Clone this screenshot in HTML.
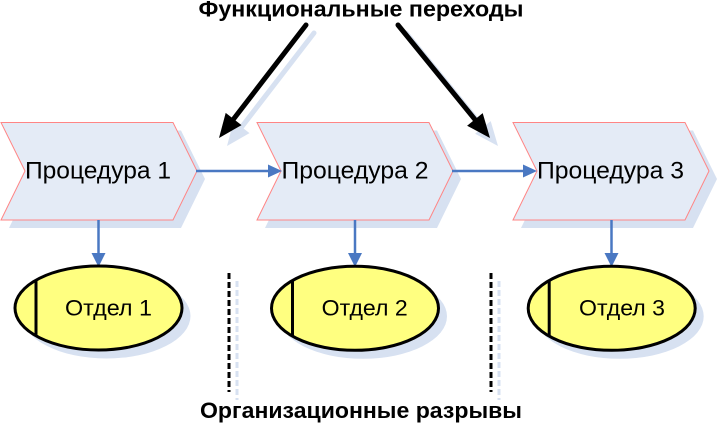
<!DOCTYPE html>
<html>
<head>
<meta charset="utf-8">
<style>
  html, body { margin: 0; padding: 0; background: #ffffff; }
  body { width: 718px; height: 423px; overflow: hidden; }
  svg { display: block; }
  text { font-family: "Liberation Sans", Arial, sans-serif; fill: #000; }
</style>
</head>
<body>
<svg width="718" height="423" viewBox="0 0 718 423" xmlns="http://www.w3.org/2000/svg">
  <defs>
    <path id="chev" d="M0,122.5 L172,122.5 L196,171 L172,220 L0,220 L24,171 Z"/>
  </defs>

  <!-- Big arrow shadows -->
  <g stroke="#d7e1f1" fill="#d7e1f1">
    <line x1="314" y1="33" x2="241.6" y2="127" stroke-width="5" stroke-linecap="round"/>
    <polygon points="227,146 249.5,133.1 233.7,120.9" stroke="none"/>
    <line x1="406" y1="33" x2="482.9" y2="127.4" stroke-width="5" stroke-linecap="round"/>
    <polygon points="498,146 490.7,121.1 475.1,133.7" stroke="none"/>
  </g>

  <!-- Chevron shadows -->
  <use href="#chev" x="9" y="8" fill="#d7e1f1"/>
  <use href="#chev" x="265" y="8" fill="#d7e1f1"/>
  <use href="#chev" x="521" y="8" fill="#d7e1f1"/>

  <!-- Chevrons -->
  <use href="#chev" x="1" y="0" fill="#e4ebf6" stroke="#ff8585" stroke-width="1"/>
  <use href="#chev" x="257" y="0" fill="#e4ebf6" stroke="#ff8585" stroke-width="1"/>
  <use href="#chev" x="513" y="0" fill="#e4ebf6" stroke="#ff8585" stroke-width="1"/>

  <!-- Procedure labels -->
  <text x="98" y="178.5" font-size="24" text-anchor="middle" textLength="146" lengthAdjust="spacingAndGlyphs">Процедура 1</text>
  <text x="355" y="178.5" font-size="24" text-anchor="middle" textLength="147" lengthAdjust="spacingAndGlyphs">Процедура 2</text>
  <text x="610.5" y="178.5" font-size="24" text-anchor="middle" textLength="147" lengthAdjust="spacingAndGlyphs">Процедура 3</text>

  <!-- Horizontal blue connectors -->
  <g stroke="#4a78c2" stroke-width="2.5" fill="#4a78c2">
    <line x1="196" y1="171" x2="270" y2="171"/>
    <polygon points="282,171 268,164.5 268,177.5" stroke="none"/>
    <line x1="452" y1="171" x2="525" y2="171"/>
    <polygon points="537,171 523,164.5 523,177.5" stroke="none"/>
  </g>

  <!-- Vertical blue connectors -->
  <g stroke="#4a78c2" stroke-width="2.5" fill="#4a78c2">
    <line x1="98.5" y1="220" x2="98.5" y2="254"/>
    <polygon points="98.5,267 91.5,253 105.5,253" stroke="none"/>
    <line x1="355" y1="220" x2="355" y2="254"/>
    <polygon points="355,267 348,253 362,253" stroke="none"/>
    <line x1="611.5" y1="220" x2="611.5" y2="254"/>
    <polygon points="611.5,267 604.5,253 618.5,253" stroke="none"/>
  </g>

  <!-- Ellipse shadows -->
  <ellipse cx="106.5" cy="316" rx="84" ry="42.5" fill="#d7e1f1"/>
  <ellipse cx="363" cy="316.3" rx="84" ry="42.5" fill="#d7e1f1"/>
  <ellipse cx="619.7" cy="316.3" rx="84" ry="42.5" fill="#d7e1f1"/>

  <!-- Ellipses -->
  <g fill="#ffff80" stroke="#000" stroke-width="3">
    <ellipse cx="98.5" cy="308" rx="83.5" ry="42"/>
    <ellipse cx="355" cy="308.3" rx="83.5" ry="42"/>
    <ellipse cx="611.7" cy="308.3" rx="83.5" ry="42"/>
  </g>
  <g stroke="#000" stroke-width="3">
    <line x1="36" y1="280.5" x2="36" y2="335.5"/>
    <line x1="292.5" y1="280.8" x2="292.5" y2="335.8"/>
    <line x1="549.2" y1="280.8" x2="549.2" y2="335.8"/>
  </g>

  <!-- Department labels -->
  <text x="108.5" y="315.7" font-size="22" text-anchor="middle" textLength="87" lengthAdjust="spacingAndGlyphs">Отдел 1</text>
  <text x="364.7" y="315.7" font-size="22" text-anchor="middle" textLength="86" lengthAdjust="spacingAndGlyphs">Отдел 2</text>
  <text x="622" y="315.7" font-size="22" text-anchor="middle" textLength="86" lengthAdjust="spacingAndGlyphs">Отдел 3</text>

  <!-- Dotted separators: shadows -->
  <g stroke="#d7e1f1" stroke-width="3" stroke-dasharray="6 3">
    <line x1="237" y1="281" x2="237" y2="400"/>
    <line x1="499" y1="281" x2="499" y2="400"/>
  </g>
  <!-- Dotted separators -->
  <g stroke="#000" stroke-width="3" stroke-dasharray="6 3">
    <line x1="229" y1="273" x2="229" y2="392"/>
    <line x1="491" y1="273" x2="491" y2="392"/>
  </g>

  <!-- Big black arrows -->
  <g stroke="#000" fill="#000">
    <line x1="306" y1="25" x2="233.6" y2="119" stroke-width="5" stroke-linecap="round"/>
    <polygon points="219,138 241.5,125.1 225.7,112.9" stroke="none"/>
    <line x1="398" y1="25" x2="474.9" y2="119.4" stroke-width="5" stroke-linecap="round"/>
    <polygon points="490,138 482.7,113.1 467.1,125.7" stroke="none"/>
  </g>

  <!-- Titles -->
  <text x="361" y="16.5" font-size="22" font-weight="bold" text-anchor="middle" textLength="325" lengthAdjust="spacingAndGlyphs">Функциональные переходы</text>
  <text x="361" y="418" font-size="22" font-weight="bold" text-anchor="middle" textLength="322" lengthAdjust="spacingAndGlyphs">Организационные разрывы</text>
</svg>
</body>
</html>
